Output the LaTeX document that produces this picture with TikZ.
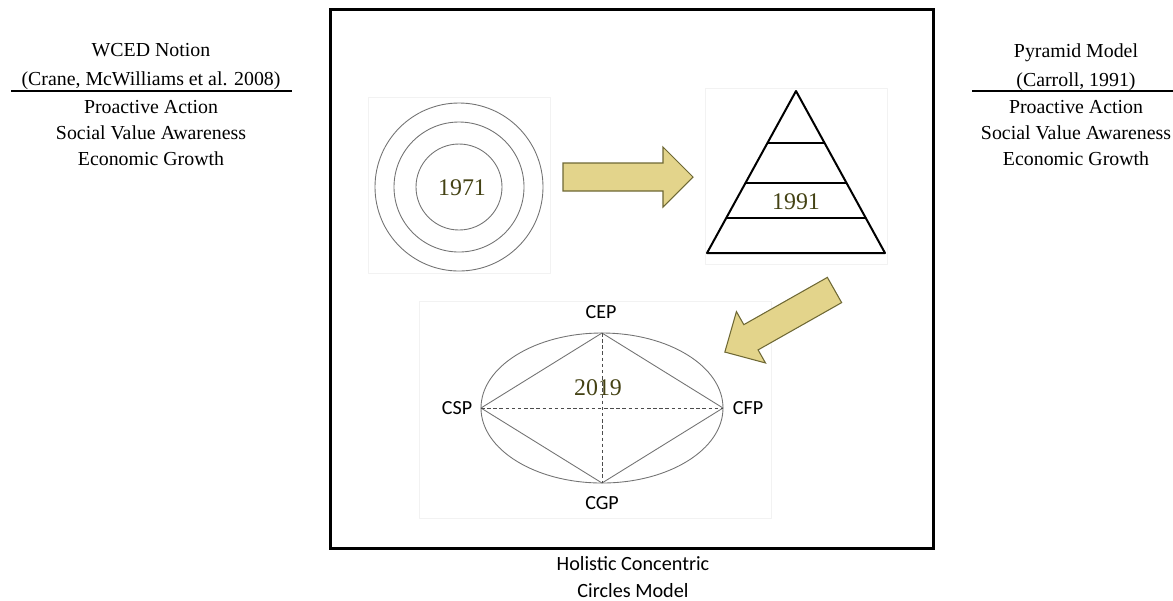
\documentclass[tikz,border=0pt]{standalone}
\usepackage{fontspec}
\setmainfont{Liberation Serif}
\newfontfamily\tnr{Liberation Serif}
\newfontfamily\calib{Carlito}
\definecolor{yearcol}{RGB}{68,66,20}
\definecolor{khaki}{RGB}{227,212,139}
\definecolor{arrowline}{RGB}{110,104,52}
\tikzset{
  coltext/.style={align=center, font=\tnr\fontsize{11.3}{16.5}\selectfont},
  collist/.style={align=center, font=\tnr\fontsize{11.3}{14.8}\selectfont},
  year/.style={text=yearcol, font=\tnr\fontsize{13.6}{16}\selectfont},
  pole/.style={font=\calib\fontsize{11.4}{14}\selectfont},
  ring/.style={draw=black!55, line width=0.5pt},
  blockarrow/.style={fill=khaki, draw=arrowline, line width=0.6pt, line join=miter},
  imgbox/.style={draw=black!5, line width=0.4pt}
}
\begin{document}
\begin{tikzpicture}[x=0.02cm, y=-0.02cm, line join=round]
	\useasboundingbox (0,0) rectangle (1173,600);
	% outer frame
	\draw[line width=0.06cm, line join=miter] (330,9) rectangle (933,548);
	% left column
	\node[coltext] (wced) at (151,67) {WCED Notion\\(Crane, McWilliams et al. 2008)};
	\node[collist] (wcedlist) at (151,133) {Proactive Action\\Social Value Awareness\\Economic Growth};
	\draw[line width=0.04cm] (11,91) -- (292,91);
	% right column
	\node[coltext] (pyr) at (1076,67) {Pyramid Model\\(Carroll, 1991)};
	\node[collist] (pyrlist) at (1076,133) {Proactive Action\\Social Value Awareness\\Economic Growth};
	\draw[line width=0.04cm] (972,91) -- (1173,91);
	% faint picture boxes
	\draw[imgbox] (368,97) rectangle (550,273);
	\draw[imgbox] (705,88) rectangle (887,264);
	\draw[imgbox] (419,301) rectangle (771,518);
	% 1971 circles
	\coordinate (c71) at (459,187);
	\foreach \r in {84,65,43}
		\draw[ring] (c71) circle [radius=\r];
	\node[year] (y71) at (462,188) {1971};
	% arrow to pyramid
	\draw[blockarrow] (563,163) -- (663,163) -- (663,147) -- (693,177) -- (663,207) -- (663,191) -- (563,191) -- cycle;
	% 1991 pyramid
	\coordinate (apex) at (796,91);
	\coordinate (bl) at (707,253);
	\coordinate (br) at (885,253);
	\draw[line width=0.04cm] (apex) -- (bl) -- (br) -- cycle;
	\draw[line width=0.04cm] (767.4,143) -- (824.6,143);
	\draw[line width=0.04cm] (745.5,183) -- (846.5,183);
	\draw[line width=0.04cm] (726.2,218) -- (865.8,218);
	\node[year] (y91) at (796,202) {1991};
	% arrow to ellipse
	\begin{scope}[shift={(834.5,290)}, rotate=209.5]
		\draw[blockarrow] (0,-14.5) -- (96,-14.5) -- (96,-29.5) -- (126,0) -- (96,29.5) -- (96,14.5) -- (0,14.5) -- cycle;
	\end{scope}
	% 2019 ellipse
	\draw[ring] (602,408) ellipse [x radius=121, y radius=75];
	\coordinate (top) at (602,333);
	\coordinate (bot) at (602,483);
	\coordinate (lft) at (481,408);
	\coordinate (rgt) at (723,408);
	\draw[ring] (top) -- (rgt) -- (bot) -- (lft) -- cycle;
	\draw[black!70, line width=0.5pt, dash pattern=on 2pt off 1.5pt] (top) -- (bot) (lft) -- (rgt);
	\node[pole] (cep) at (601,312) {CEP};
	\node[pole] (cgp) at (602,503) {CGP};
	\node[pole] (csp) at (457,408) {CSP};
	\node[pole] (cfp) at (748,408) {CFP};
	\node[year] (y19) at (598,388) {2019};
	% caption
	\node[align=center, font=\calib\fontsize{11.5}{15.4}\selectfont] (caption) at (633,577) {Holistic Concentric\\Circles Model};
\end{tikzpicture}
\end{document}
